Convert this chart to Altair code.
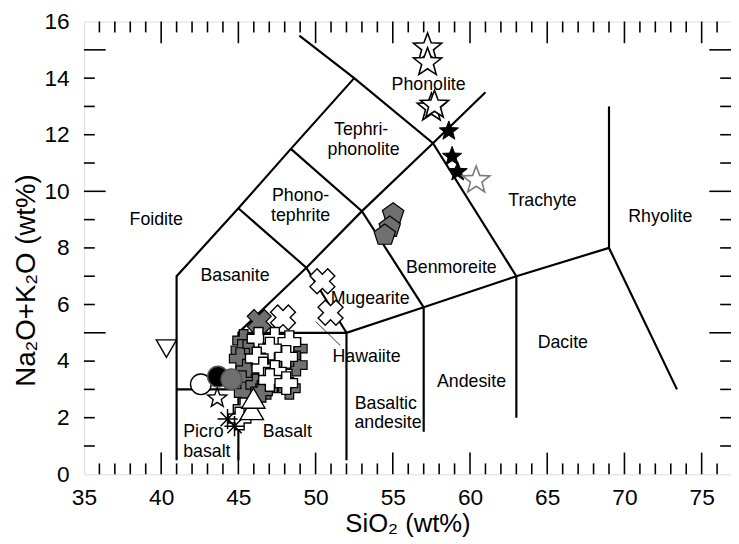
import math
import altair as alt
import pandas as pd

# ---------------- data ----------------
x_label_values = [35, 40, 45, 50, 55, 60, 65, 70, 75]
y_label_values = [0, 2, 4, 6, 8, 10, 12, 14, 16]
x_major_ticks = [40, 45, 50, 55, 60, 65, 70, 75]
x_minor_ticks = [v for v in range(36, 77) if v % 5 != 0]
y_major_ticks = [5, 10, 15]
y_minor_ticks = [v for v in range(1, 16) if v % 5 != 0]

# TAS field boundaries (polylines, SiO2, Na2O+K2O)
line_a = [(41, 0.5), (41, 7), (45, 9.4), (48.4, 11.5), (52.5, 14)]
line_b = [(48.95, 15.5), (52.5, 14), (57.6, 11.7), (63, 7), (63, 2)]
line_c = [(41, 3), (45, 3)]
line_d = [(45, 0.5), (45, 5), (49.4, 7.3), (53, 9.3), (57.6, 11.7), (61, 13.5)]
line_e = [(45, 9.4), (49.4, 7.3), (52, 5), (52, 0.5)]
line_f = [(48.4, 11.5), (53, 9.3), (57, 5.9), (57, 1.5)]
line_g = [(45, 5), (52, 5), (57, 5.9), (63, 7), (69, 8), (73.4, 3)]
line_h = [(69, 8), (69, 13)]
leader = [(50.0, 5.4), (51.6, 4.55)]

# field names
label_text = ["Foidite", "Basanite", "Phono-", "tephrite", "Tephri-", "phonolite",
              "Phonolite", "Trachyte", "Rhyolite", "Benmoreite", "Mugearite",
              "Hawaiite", "Dacite", "Andesite", "Basaltic", "andesite", "Basalt",
              "Picro", "basalt"]
label_x = [39.68, 44.78, 49.03, 49.03, 52.95, 53.11, 57.32, 64.69, 72.32, 58.79,
           53.53, 53.30, 66.01, 60.10, 54.55, 54.69, 48.17, 42.74, 42.96]
label_y = [9.0, 7.0, 9.84, 9.14, 12.16, 11.47, 13.75, 9.67, 9.08, 7.28,
           6.18, 4.15, 4.65, 3.25, 2.49, 1.82, 1.48, 1.49, 0.78]

# samples
white_star_x = [57.25, 57.25, 57.5, 57.7]
white_star_y = [15.07, 14.55, 12.95, 13.05]
black_star_x = [58.63, 58.84, 59.2]
black_star_y = [12.13, 11.23, 10.69]
gray_star_x = [60.4]
gray_star_y = [10.39]
pentagon_x = [55.02, 54.8, 54.48]
pentagon_y = [9.2, 8.73, 8.45]
white_x_x = [50.44, 50.97, 47.89]
white_x_y = [6.82, 5.71, 5.54]
gray_x_x = [46.35]
gray_x_y = [5.4]
gray_plus_x = [45.34, 45.23, 45.12, 45.55, 45.23, 45.44, 46.19, 46.83, 46.5,
               48.75, 48.75, 48.3, 46.0, 47.6, 48.3]
gray_plus_y = [4.73, 4.38, 4.09, 3.68, 3.27, 2.87, 3.16, 3.04, 2.93,
               4.44, 3.86, 3.04, 4.6, 4.1, 4.2]
white_plus_x = [46.3, 47.36, 48.3, 47.04, 46.19, 48.1, 46.61, 47.36, 47.04, 48.1,
                45.4, 45.08]
white_plus_y = [4.79, 4.79, 4.67, 4.44, 4.09, 4.15, 3.74, 3.62, 3.33, 3.22,
                2.3, 1.97]
white_circle_x = [42.57]
white_circle_y = [3.18]
black_circle_x = [43.68]
black_circle_y = [3.45]
gray_circle_x = [44.55]
gray_circle_y = [3.36]
small_star_x = [43.63]
small_star_y = [2.69]
triangle_x = [45.87, 45.97]
triangle_y = [2.29, 2.69]
inv_triangle_x = [40.34]
inv_triangle_y = [4.44]
asterisk_x = [44.3, 44.75]
asterisk_y = [1.95, 1.7]

# ---------------- helpers ----------------
W, H = 656, 459
FONT = "Liberation Sans, Arial, Helvetica, sans-serif"
GRAY = "#707070"

xscale = alt.Scale(domain=[35, 76.9], nice=False, zero=False)
yscale = alt.Scale(domain=[0, 16], nice=False, zero=False)
xaxis = alt.Axis(values=x_label_values, ticks=False, domain=False, grid=False,
                 labelFontSize=23, labelPadding=13, labelFont=FONT, labelFlush=False,
                 labelOverlap=False, labelColor="black", titleFontSize=26, titleFont=FONT,
                 titleFontWeight="normal", titleColor="black", titlePadding=1)
yaxis = alt.Axis(values=y_label_values, ticks=False, domain=False, grid=False,
                 labelFontSize=23, labelPadding=15, labelFont=FONT, labelFlush=False,
                 labelOverlap=False, labelColor="black", titleFontSize=28, titleFont=FONT,
                 titleFontWeight="normal", titleColor="black", titlePadding=4,
                 titleY=262)
XT = "SiO₂ (wt%)"
YT = "Na₂O+K₂O (wt%)"


def X(f):
    return alt.X(f, type="quantitative", scale=xscale, axis=xaxis, title=XT)


def Y(f):
    return alt.Y(f, type="quantitative", scale=yscale, axis=yaxis, title=YT)


def star_path(inner=0.42, n=5):
    pts = []
    for k in range(2 * n):
        r = 1 if k % 2 == 0 else inner
        a = math.radians(-90 + k * 180 / n)
        pts.append((r * math.cos(a), r * math.sin(a)))
    return "M" + "L".join(f"{px:.3f},{py:.3f}" for px, py in pts) + "Z"


def poly_path(n=5):
    pts = []
    for k in range(n):
        a = math.radians(-90 + k * 360 / n)
        pts.append((math.cos(a), math.sin(a)))
    return "M" + "L".join(f"{px:.3f},{py:.3f}" for px, py in pts) + "Z"


STAR = star_path()
PENT = poly_path()
ASTER = "M-1,0L1,0M0,-1L0,1M-0.7,-0.7L0.7,0.7M-0.7,0.7L0.7,-0.7"


def pts(xs, ys):
    return pd.DataFrame({"x": xs, "y": ys})


def sym(xs, ys, **kw):
    return alt.Chart(pts(xs, ys)).mark_point(opacity=1, **kw).encode(x=X("x"), y=Y("y"))


# ---------------- boundary lines ----------------
rows = []
for sid, seg in enumerate([line_a, line_b, line_c, line_d, line_e, line_f, line_g, line_h]):
    for o, (sx, sy) in enumerate(seg):
        rows.append({"seg": sid, "ord": o, "x": sx, "y": sy})
bounds = alt.Chart(pd.DataFrame(rows)).mark_line(color="black", strokeWidth=2.2).encode(
    x=X("x"), y=Y("y"), detail="seg:N", order="ord:Q")

lead = alt.Chart(pd.DataFrame({"x": [p[0] for p in leader], "y": [p[1] for p in leader]})).mark_line(
    color="black", strokeWidth=0.8).encode(x=X("x"), y=Y("y"))

# ---------------- inward ticks ----------------
def xticks(vals, length):
    d = pd.DataFrame({"x": vals})
    bot = alt.Chart(d).mark_rule(color="black", strokeWidth=1.6).encode(
        x=X("x"), y=alt.value(H), y2=alt.value(H - length))
    top = alt.Chart(d).mark_rule(color="black", strokeWidth=1.6).encode(
        x=X("x"), y=alt.value(0), y2=alt.value(length))
    return [bot, top]


def yticks(vals, length):
    d = pd.DataFrame({"y": vals})
    left = alt.Chart(d).mark_rule(color="black", strokeWidth=1.6).encode(
        y=Y("y"), x=alt.value(0), x2=alt.value(length))
    right = alt.Chart(d).mark_rule(color="black", strokeWidth=1.6).encode(
        y=Y("y"), x=alt.value(W), x2=alt.value(W - length))
    return [left, right]


ticks = xticks(x_minor_ticks, 11) + xticks(x_major_ticks, 22) + \
    yticks(y_minor_ticks, 11) + yticks(y_major_ticks, 22)

# ---------------- labels ----------------
labels = alt.Chart(pd.DataFrame({"t": label_text, "x": label_x, "y": label_y})).mark_text(
    font=FONT, fontSize=18, color="black", align="center", baseline="middle").encode(
    x=X("x"), y=Y("y"), text="t:N")

# ---------------- symbols ----------------
marks = [
    sym(pentagon_x, pentagon_y, shape=PENT, filled=True, fill=GRAY, stroke="black", strokeWidth=1.2, size=520),
    sym(white_star_x, white_star_y, shape=STAR, filled=True, fill="white", stroke="black", strokeWidth=1.6, size=900),
    sym(black_star_x, black_star_y, shape=STAR, filled=True, fill="black", stroke="black", strokeWidth=1, size=420),
    sym(gray_star_x, gray_star_y, shape=STAR, filled=True, fill="white", stroke="#7a7a7a", strokeWidth=1.6, size=850),
    sym(gray_x_x, gray_x_y, shape="cross", angle=45, filled=True, fill=GRAY, stroke="black", strokeWidth=1.2, size=600),
    sym(white_x_x, white_x_y, shape="cross", angle=45, filled=True, fill="white", stroke="black", strokeWidth=1.4, size=650),
    sym(gray_plus_x, gray_plus_y, shape="cross", filled=True, fill=GRAY, stroke="black", strokeWidth=1.2, size=480),
    sym(white_plus_x, white_plus_y, shape="cross", filled=True, fill="white", stroke="black", strokeWidth=1.4, size=520),
    sym(white_circle_x, white_circle_y, shape="circle", filled=True, fill="white", stroke="black", strokeWidth=1.4, size=440),
    sym(black_circle_x, black_circle_y, shape="circle", filled=True, fill="black", stroke="#555555", strokeWidth=1.4, size=440),
    sym(gray_circle_x, gray_circle_y, shape="circle", filled=True, fill=GRAY, stroke="#555555", strokeWidth=1.4, size=440),
    sym(small_star_x, small_star_y, shape=STAR, filled=True, fill="white", stroke="black", strokeWidth=1.4, size=420),
    sym(triangle_x, triangle_y, shape="triangle-up", filled=True, fill="white", stroke="black", strokeWidth=1.4, size=560),
    sym(asterisk_x, asterisk_y, shape=ASTER, filled=False, stroke="black", strokeWidth=1.5, size=420),
    sym(inv_triangle_x, inv_triangle_y, shape="triangle-down", filled=True, fill="white", stroke="black", strokeWidth=1.4, size=420),
]

chart = alt.layer(bounds, lead, *ticks, labels, *marks).properties(
    width=W, height=H,
    autosize=alt.AutoSizeParams(type="none"),
    padding={"left": 77, "top": 10, "right": 0, "bottom": 70},
).configure_view(stroke="black", strokeWidth=2).configure(background="white")

chart.save("out.html", embed_options={"renderer": "svg", "actions": False})
